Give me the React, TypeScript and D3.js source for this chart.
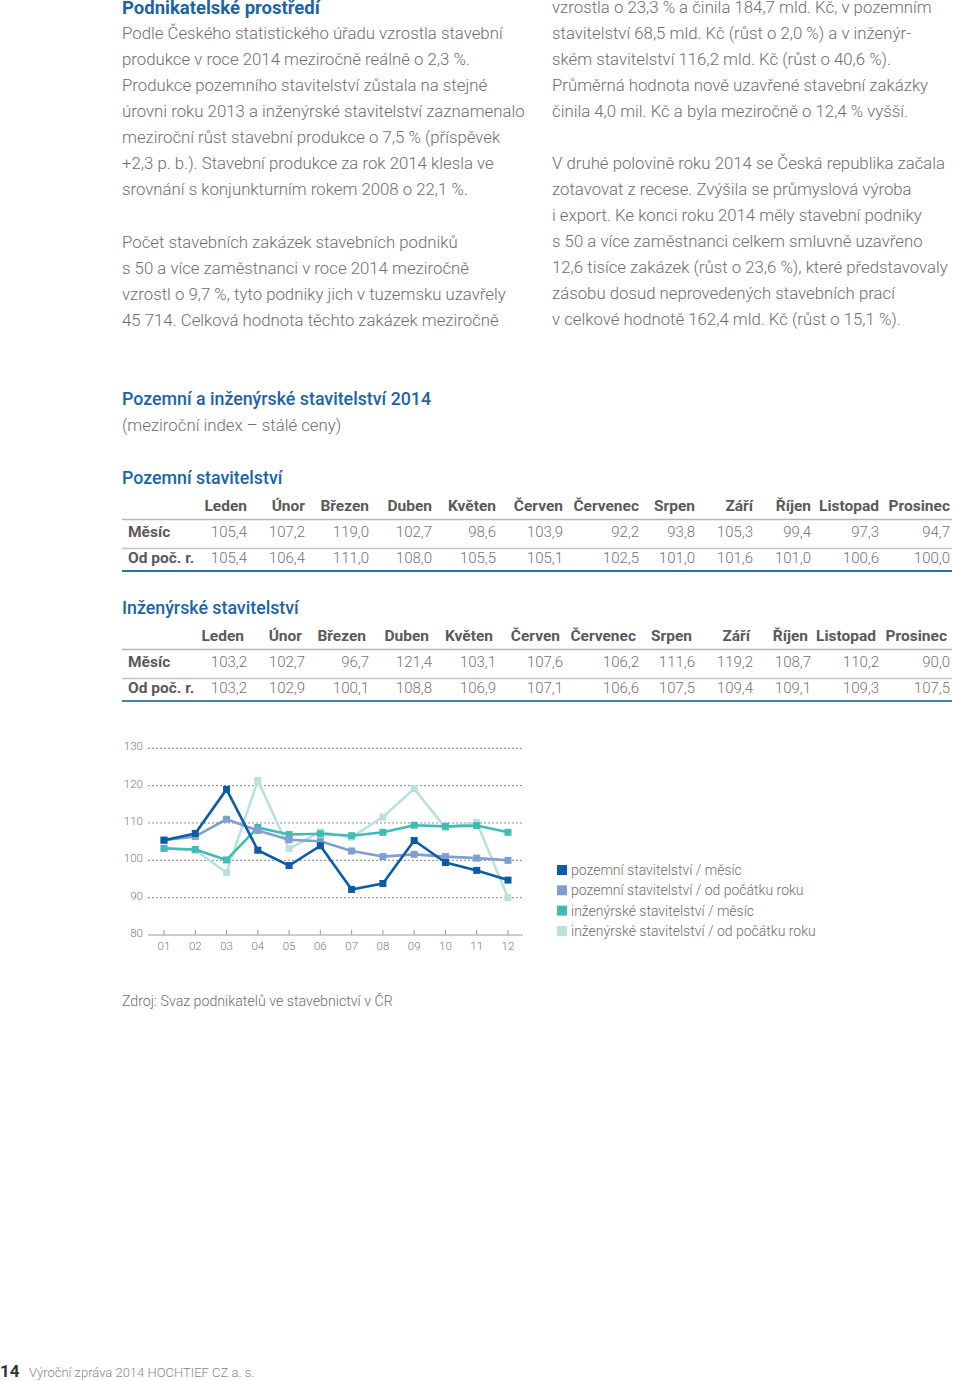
import React from "react";
import * as d3 from "d3";

const monthsLong = ["Leden","Únor","Březen","Duben","Květen","Červen","Červenec","Srpen","Září","Říjen","Listopad","Prosinec"];
const monthTicks = ["01","02","03","04","05","06","07","08","09","10","11","12"];
const yTicks = [80, 90, 100, 110, 120, 130];

const pozMesic = [105.4,107.2,119.0,102.7,98.6,103.9,92.2,93.8,105.3,99.4,97.3,94.7];
const pozOdPoc = [105.4,106.4,111.0,108.0,105.5,105.1,102.5,101.0,101.6,101.0,100.6,100.0];
const inzMesic = [103.2,102.7,96.7,121.4,103.1,107.6,106.2,111.6,119.2,108.7,110.2,90.0];
const inzOdPoc = [103.2,102.9,100.1,108.8,106.9,107.1,106.6,107.5,109.4,109.1,109.3,107.5];

const legendLabels = [
  "pozemní stavitelství / měsíc",
  "pozemní stavitelství / od počátku roku",
  "inženýrské stavitelství / měsíc",
  "inženýrské stavitelství / od počátku roku",
];
const legendColors = ["#0b5ca6", "#7e9fd2", "#3fbcb3", "#b9e1dd"];

const leftText1 = [
  "Podle Českého statistického úřadu vzrostla stavební",
  "produkce v roce 2014 meziročně reálně o 2,3 %.",
  "Produkce pozemního stavitelství zůstala na stejné",
  "úrovni roku 2013 a inženýrské stavitelství zaznamenalo",
  "meziroční růst stavební produkce o 7,5 % (příspěvek",
  "+2,3 p. b.). Stavební produkce za rok 2014 klesla ve",
  "srovnání s konjunkturním rokem 2008 o 22,1 %.",
];
const leftText2 = [
  "Počet stavebních zakázek stavebních podniků",
  "s 50 a více zaměstnanci v roce 2014 meziročně",
  "vzrostl o 9,7 %, tyto podniky jich v tuzemsku uzavřely",
  "45 714. Celková hodnota těchto zakázek meziročně",
];
const rightText1 = [
  "vzrostla o 23,3 % a činila 184,7 mld. Kč, v pozemním",
  "stavitelství 68,5 mld. Kč (růst o 2,0 %) a v inženýr-",
  "ském stavitelství 116,2 mld. Kč (růst o 40,6 %).",
  "Průměrná hodnota nově uzavřené stavební zakázky",
  "činila 4,0 mil. Kč a byla meziročně o 12,4 % vyšší.",
];
const rightText2 = [
  "V druhé polovině roku 2014 se Česká republika začala",
  "zotavovat z recese. Zvýšila se průmyslová výroba",
  "i export. Ke konci roku 2014 měly stavební podniky",
  "s 50 a více zaměstnanci celkem smluvně uzavřeno",
  "12,6 tisíce zakázek (růst o 23,6 %), které představovaly",
  "zásobu dosud neprovedených stavebních prací",
  "v celkové hodnotě 162,4 mld. Kč (růst o 15,1 %).",
];

const FONT = "Roboto, 'Liberation Sans', Arial, sans-serif";
const BLUE = "#1c64a5";
const GREY = "#6e6e6e";

const colRight = [247, 305, 369, 432, 496, 563, 639, 695, 753, 811, 879, 950];

const fmt = (v: number) => v.toFixed(1).replace(".", ",");

function Paragraph({ lines, x, y0 }: { lines: string[]; x: number; y0: number }) {
  return (
    <g>
      {lines.map((l, i) => (
        <text key={i} x={x} y={y0 + i * 26} fontSize={16.8} fontWeight={300} fill={GREY} fontFamily={FONT}>
          {l}
        </text>
      ))}
    </g>
  );
}

function Table({ top, title, row1, row2, bottomColor, headerShift }: { top: number; title: string; row1: number[]; row2: number[]; bottomColor: string; headerShift: number }) {
  return (
    <g fontFamily={FONT}>
      <text x={122} y={top + 6} fontSize={17.8} fontWeight={500} fill={BLUE}>{title}</text>
      {monthsLong.map((m, i) => (
        <text key={m} x={colRight[i] + headerShift} y={top + 33} fontSize={15.5} fontWeight={700} fill="#5a5a5a" textAnchor="end">{m}</text>
      ))}
      <line x1={122} x2={952} y1={top + 41.5} y2={top + 41.5} stroke="#b5b5b5" strokeWidth={1.5} />
      <text x={128} y={top + 59} fontSize={15.5} fontWeight={700} fill="#5a5a5a">Měsíc</text>
      {row1.map((v, i) => (
        <text key={i} x={colRight[i]} y={top + 59} fontSize={15} fontWeight={300} fill="#737373" textAnchor="end">{fmt(v)}</text>
      ))}
      <line x1={122} x2={952} y1={top + 70.5} y2={top + 70.5} stroke="#c3c3c3" strokeWidth={1.5} />
      <text x={128} y={top + 85} fontSize={15.5} fontWeight={700} fill="#5a5a5a">Od poč. r.</text>
      {row2.map((v, i) => (
        <text key={i} x={colRight[i]} y={top + 85} fontSize={15} fontWeight={300} fill="#737373" textAnchor="end">{fmt(v)}</text>
      ))}
      <line x1={122} x2={952} y1={top + 93} y2={top + 93} stroke={bottomColor} strokeWidth={2} />
    </g>
  );
}

export default function App() {
  const x = d3.scalePoint<string>().domain(monthTicks).range([164, 508]);
  const y = d3.scaleLinear().domain([80, 130]).range([935, 748.3]);
  const line = d3.line<number>().x((_, i) => x(monthTicks[i]) as number).y((d) => y(d));

  const series = [
    { data: inzMesic, color: legendColors[3] },
    { data: inzOdPoc, color: legendColors[2] },
    { data: pozOdPoc, color: legendColors[1] },
    { data: pozMesic, color: legendColors[0] },
  ];

  return (
    <svg width={960} height={1381} style={{ position: "absolute", left: 0, top: 0 }} fontFamily={FONT}>
      <rect width={960} height={1381} fill="#fff" />
      <text x={122} y={14} fontSize={18.5} fontWeight={700} fill={BLUE}>Podnikatelské prostředí</text>
      <Paragraph lines={leftText1} x={122} y0={39} />
      <Paragraph lines={leftText2} x={122} y0={248} />
      <Paragraph lines={rightText1} x={552} y0={13} />
      <Paragraph lines={rightText2} x={552} y0={169} />

      <text x={122} y={405} fontSize={17.8} fontWeight={500} fill={BLUE}>Pozemní a inženýrské stavitelství 2014</text>
      <text x={122} y={431} fontSize={16.8} fontWeight={300} fill={GREY}>(meziroční index – stálé ceny)</text>

      <Table top={478} title="Pozemní stavitelství" row1={pozMesic} row2={pozOdPoc} bottomColor="#2f6fa8" headerShift={0} />
      <Table top={608} title="Inženýrské stavitelství" row1={inzMesic} row2={inzOdPoc} bottomColor="#4a80a6" headerShift={-3} />

      {/* chart */}
      <g>
        {yTicks.filter((t) => t > 80).map((t) => (
          <line key={t} x1={148} x2={523} y1={y(t)} y2={y(t)} stroke="#8a8a8a" strokeWidth={1} strokeDasharray="2,2" />
        ))}
        {yTicks.map((t) => (
          <text key={t} x={143} y={y(t) + 2} fontSize={11.5} fontWeight={300} fill="#7a7a7a" textAnchor="end">{t}</text>
        ))}
        <line x1={148} x2={523} y1={935} y2={935} stroke="#9a9a9a" strokeWidth={1} />
        {monthTicks.map((m) => (
          <g key={m}>
            <line x1={x(m)} x2={x(m)} y1={930} y2={935} stroke="#9a9a9a" strokeWidth={1} />
            <text x={x(m)} y={950} fontSize={11.5} fontWeight={300} fill="#7a7a7a" textAnchor="middle">{m}</text>
          </g>
        ))}
        {series.map((s, si) => (
          <g key={si}>
            <path d={line(s.data) || ""} fill="none" stroke={s.color} strokeWidth={2.6} strokeLinejoin="round" />
            {s.data.map((v, i) => (
              <rect key={i} x={(x(monthTicks[i]) as number) - 3.5} y={y(v) - 3.5} width={7} height={7} fill={s.color} />
            ))}
          </g>
        ))}
      </g>

      {/* legend */}
      {legendLabels.map((l, i) => (
        <g key={l}>
          <rect x={557} y={865 + i * 20.3} width={10} height={10} fill={legendColors[i]} />
          <text x={571} y={875 + i * 20.3} fontSize={14} fontWeight={300} fill={GREY}>{l}</text>
        </g>
      ))}

      <text x={122} y={1006} fontSize={14.2} fontWeight={300} fill={GREY}>Zdroj: Svaz podnikatelů ve stavebnictví v ČR</text>

      <text x={0} y={1377} fontSize={17} fontWeight={700} fill="#333">14</text>
      <text x={29} y={1377} fontSize={13} fontWeight={300} fill="#888">Výroční zpráva 2014 HOCHTIEF CZ a. s.</text>
    </svg>
  );
}
